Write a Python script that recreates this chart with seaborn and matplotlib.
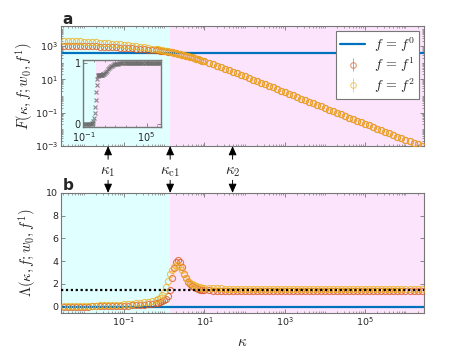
import matplotlib
matplotlib.use("Agg")
import matplotlib.pyplot as plt
import matplotlib.ticker as mticker
from matplotlib.transforms import blended_transform_factory
import numpy as np
import seaborn as sns

# sampling grid, log10(kappa)
LOG_KAPPA = [
    -2.5, -2.4, -2.3, -2.2, -2.1, -2.0, -1.9, -1.8, -1.7, -1.6, -1.5, -1.4,
    -1.3, -1.2, -1.1, -1.0, -0.9, -0.8, -0.7, -0.6, -0.5, -0.4, -0.3,
    -0.20, -0.15, -0.10, -0.05, 0.00, 0.05, 0.10, 0.15, 0.20, 0.25, 0.30,
    0.35, 0.40, 0.45, 0.50, 0.55, 0.60, 0.65, 0.70, 0.75, 0.80, 0.85, 0.90,
    0.95, 1.00,
    1.1, 1.2, 1.3, 1.4, 1.5, 1.6, 1.7, 1.8, 1.9, 2.0, 2.1, 2.2, 2.3, 2.4,
    2.5, 2.6, 2.7, 2.8, 2.9, 3.0, 3.1, 3.2, 3.3, 3.4, 3.5, 3.6, 3.7, 3.8,
    3.9, 4.0, 4.1, 4.2, 4.3, 4.4, 4.5, 4.6, 4.7, 4.8, 4.9, 5.0, 5.1, 5.2,
    5.3, 5.4, 5.5, 5.6, 5.7, 5.8, 5.9, 6.0, 6.1, 6.2, 6.3, 6.4,
]

# panel a: log10 F, first 48 points differ between f1 and f2
LOG_F1_HEAD = [
    3.03, 3.02, 3.02, 3.01, 3.00, 3.00, 2.99, 2.98, 2.98, 2.97, 2.96, 2.95,
    2.94, 2.93, 2.91, 2.90, 2.88, 2.87, 2.85, 2.83, 2.81, 2.79, 2.77,
    2.75, 2.74, 2.72, 2.71, 2.69, 2.68, 2.66, 2.64, 2.62, 2.59, 2.57,
    2.54, 2.51, 2.48, 2.45, 2.42, 2.39, 2.36, 2.32, 2.29, 2.25, 2.21, 2.17,
    2.13, 2.09,
]
LOG_F2_HEAD = [
    3.33, 3.32, 3.30, 3.29, 3.28, 3.26, 3.25, 3.24, 3.22, 3.20, 3.18, 3.16,
    3.14, 3.12, 3.10, 3.07, 3.04, 3.02, 2.99, 2.95, 2.92, 2.89, 2.85,
    2.82, 2.80, 2.78, 2.76, 2.73, 2.71, 2.68, 2.65, 2.63, 2.60, 2.57,
    2.54, 2.51, 2.48, 2.45, 2.42, 2.39, 2.36, 2.32, 2.29, 2.25, 2.21, 2.17,
    2.13, 2.09,
]
LOG_F_TAIL = [
    2.00, 1.91, 1.82, 1.73, 1.64, 1.55, 1.46, 1.37, 1.28, 1.18, 1.09, 0.99,
    0.90, 0.80, 0.71, 0.61, 0.52, 0.42, 0.33, 0.23, 0.14, 0.04, -0.05,
    -0.15, -0.24, -0.34, -0.43, -0.53, -0.62, -0.72, -0.81, -0.91, -1.00,
    -1.10, -1.19, -1.29, -1.38, -1.48, -1.57, -1.67, -1.76, -1.86, -1.95,
    -2.05, -2.14, -2.24, -2.33, -2.43, -2.52, -2.62, -2.71, -2.81, -2.90,
    -3.00,
]
F0_LEVEL = 400.0

# panel b
LAMBDA1 = [
    0.00, 0.00, 0.00, 0.01, 0.01, 0.01, 0.01, 0.02, 0.02, 0.03, 0.03, 0.04,
    0.05, 0.06, 0.07, 0.08, 0.10, 0.11, 0.13, 0.15, 0.18, 0.21, 0.25,
    0.30, 0.34, 0.40, 0.48, 0.58, 0.70, 0.90, 1.50, 2.50, 3.40, 3.95,
    4.10, 3.95, 3.50, 2.90, 2.50, 2.20, 2.00, 1.85, 1.72, 1.62, 1.55, 1.50,
    1.47, 1.45,
    1.43, 1.42, 1.41, 1.40, 1.40, 1.40, 1.39, 1.39, 1.39, 1.39, 1.39, 1.39,
    1.39, 1.39, 1.39, 1.39, 1.39, 1.39, 1.39, 1.39, 1.39, 1.39, 1.39, 1.39,
    1.39, 1.39, 1.39, 1.39, 1.39, 1.39, 1.39, 1.39, 1.39, 1.39, 1.39, 1.39,
    1.39, 1.39, 1.39, 1.39, 1.39, 1.39, 1.39, 1.39, 1.39, 1.39, 1.39, 1.39,
    1.39, 1.39, 1.39, 1.39, 1.39, 1.39,
]
LAMBDA2 = [
    0.05, 0.05, 0.06, 0.06, 0.07, 0.07, 0.08, 0.09, 0.10, 0.11, 0.12, 0.13,
    0.15, 0.17, 0.19, 0.21, 0.24, 0.27, 0.30, 0.34, 0.38, 0.43, 0.50,
    0.58, 0.66, 0.80, 1.00, 1.30, 1.70, 2.30, 2.85, 3.25, 3.50, 3.65,
    3.65, 3.50, 3.20, 2.85, 2.55, 2.30, 2.12, 2.00, 1.90, 1.82, 1.76, 1.72,
    1.68, 1.66,
    1.64, 1.62, 1.61, 1.60, 1.59, 1.59, 1.58, 1.58, 1.58, 1.58, 1.58, 1.58,
    1.58, 1.58, 1.58, 1.58, 1.58, 1.58, 1.58, 1.58, 1.58, 1.58, 1.58, 1.58,
    1.58, 1.58, 1.58, 1.58, 1.58, 1.58, 1.58, 1.58, 1.58, 1.58, 1.58, 1.58,
    1.58, 1.58, 1.58, 1.58, 1.58, 1.58, 1.58, 1.58, 1.58, 1.58, 1.58, 1.58,
    1.58, 1.58, 1.58, 1.58, 1.58, 1.58,
]
LAMBDA_REF = 1.5

# inset of panel a
INSET_G = [
    0.00, 0.00, 0.00, 0.00, 0.00, 0.00, 0.00, 0.00, 0.00, 0.00, 0.00, 0.00,
    0.00, 0.00, 0.00, 0.00, 0.00, 0.00, 0.00, 0.00, 0.00, 0.00, 0.00,
    0.00, 0.01, 0.02, 0.05, 0.10, 0.18, 0.28, 0.40, 0.52, 0.64, 0.74,
    0.79, 0.80, 0.80, 0.80, 0.80, 0.80, 0.80, 0.81, 0.81, 0.81, 0.82, 0.82,
    0.83, 0.84,
    0.86, 0.88, 0.90, 0.92, 0.93, 0.95, 0.96, 0.97, 0.98, 0.985, 0.99, 0.99,
    0.995, 1.00, 1.00, 1.00, 1.00, 1.00, 1.00, 1.00, 1.00, 1.00, 1.00, 1.00,
    1.00, 1.00, 1.00, 1.00, 1.00, 1.00, 1.00, 1.00, 1.00, 1.00, 1.00, 1.00,
    1.00, 1.00, 1.00, 1.00, 1.00, 1.00, 1.00, 1.00, 1.00, 1.00, 1.00, 1.00,
    1.00, 1.00, 1.00, 1.00, 1.00, 1.00,
]

KAPPA_MARKS = {r"$\kappa_1$": 0.04, r"$\kappa_{\rm c1}$": 1.4, r"$\kappa_2$": 50.0}
KAPPA_C1 = 1.4

BLUE = "#0072BD"
RED = "#D95319"
YELLOW = "#EDB120"
CYAN_BG = "#e0ffff"
PINK_BG = "#fce4fc"
FRAME = "#777777"


def style_axis(ax, fontsize=6.8):
    for sp in ax.spines.values():
        sp.set_color(FRAME)
        sp.set_linewidth(0.8)
    ax.tick_params(which="both", direction="in", top=True, right=True,
                   color=FRAME, labelsize=fontsize, pad=2)
    ax.tick_params(which="major", length=3, width=0.6)
    ax.tick_params(which="minor", length=1.6, width=0.5)


def shade(ax, xlim):
    ax.axvspan(xlim[0], KAPPA_C1, color=CYAN_BG, lw=0, zorder=0)
    ax.axvspan(KAPPA_C1, xlim[1], color=PINK_BG, lw=0, zorder=0)


def set_log_ticks(axis, majors):
    axis.set_major_locator(mticker.FixedLocator(majors))
    axis.set_major_formatter(mticker.LogFormatterSciNotation())
    axis.set_minor_locator(mticker.LogLocator(base=10, subs=np.arange(1, 10),
                                              numticks=40))
    axis.set_minor_formatter(mticker.NullFormatter())


def main():
    sns.set_theme(style="ticks")
    plt.rcParams["font.family"] = ["DejaVu Sans"]
    plt.rcParams["mathtext.fontset"] = "cm"

    kappa = 10 ** np.array(LOG_KAPPA)
    f1 = 10 ** np.array(LOG_F1_HEAD + LOG_F_TAIL)
    f2 = 10 ** np.array(LOG_F2_HEAD + LOG_F_TAIL)
    xlim = (10 ** -2.57, 10 ** 6.46)

    fig = plt.figure(figsize=(4.69, 3.52), dpi=100)
    ax_a = fig.add_axes([0.130, 0.585, 0.774, 0.341])
    ax_b = fig.add_axes([0.130, 0.111, 0.774, 0.341])

    mk = dict(marker="o", linestyle="", markersize=4.4, markerfacecolor="none",
              markeredgewidth=0.8, alpha=0.75, legend=False)

    # panel a
    ax_a.set_xscale("log")
    ax_a.set_yscale("log")
    shade(ax_a, xlim)
    sns.lineplot(x=list(xlim), y=[F0_LEVEL, F0_LEVEL], color=BLUE, lw=1.6,
                 ax=ax_a, legend=False, zorder=2)
    sns.lineplot(x=kappa, y=f1, color=RED, markeredgecolor=RED, ax=ax_a,
                 zorder=3, **mk)
    sns.lineplot(x=kappa, y=f2, color=YELLOW, markeredgecolor=YELLOW, ax=ax_a,
                 zorder=3, **mk)
    set_log_ticks(ax_a.yaxis, [1e-3, 1e-1, 1e1, 1e3])
    set_log_ticks(ax_a.xaxis, [1e-1, 1e1, 1e3, 1e5])
    ax_a.set_xlim(*xlim)
    ax_a.set_ylim(1e-3, 10 ** 4.2)
    ax_a.tick_params(labelbottom=False)
    ax_a.set_xlabel("")
    ax_a.set_ylabel(r"$F(\kappa, f; w_0, f^1)$", fontsize=10.5, labelpad=0)
    style_axis(ax_a)

    h0 = plt.Line2D([], [], color=BLUE, lw=1.6)
    h1 = ax_a.errorbar([], [], yerr=[], fmt="o", mfc="none", mec=RED, ecolor=RED,
                       ms=4.0, mew=0.8, elinewidth=0.7, capsize=2, alpha=0.6)
    h2 = ax_a.errorbar([], [], yerr=[], fmt="o", mfc="none", mec=YELLOW,
                       ecolor=YELLOW, ms=4.0, mew=0.8, elinewidth=0.7, capsize=2,
                       alpha=0.6)
    leg = ax_a.legend([h0, h1, h2], [r"$f\,=\,f^0$", r"$f\,=\,f^1$", r"$f\,=\,f^2$"],
                      loc="upper right", fontsize=10, frameon=True,
                      fancybox=False, framealpha=1, edgecolor=FRAME,
                      borderaxespad=0.35, handlelength=1.8, handletextpad=0.6,
                      labelspacing=0.15, borderpad=0.3)
    leg.get_frame().set_linewidth(0.8)

    # inset
    ax_in = fig.add_axes([0.178, 0.639, 0.166, 0.190])
    ax_in.set_xscale("log")
    in_xlim = (1e-1, 10 ** 6.4)
    shade(ax_in, in_xlim)
    sns.lineplot(x=kappa, y=INSET_G, marker="x", linestyle="", color="#6e6e6e",
                 markersize=3.2, markeredgewidth=0.8, markeredgecolor="#6e6e6e",
                 alpha=0.8, ax=ax_in, legend=False)
    ax_in.xaxis.set_major_locator(mticker.FixedLocator([1e-1, 1e5]))
    ax_in.xaxis.set_major_formatter(mticker.LogFormatterSciNotation())
    ax_in.xaxis.set_minor_locator(mticker.LogLocator(base=10, subs=[1.0],
                                                     numticks=20))
    ax_in.xaxis.set_minor_formatter(mticker.NullFormatter())
    ax_in.set_xlim(*in_xlim)
    ax_in.set_ylim(-0.05, 1.05)
    ax_in.set_yticks([0, 1])
    ax_in.set_xlabel("")
    ax_in.set_ylabel("")
    style_axis(ax_in, fontsize=7)
    for sp in ax_in.spines.values():
        sp.set_linewidth(1.0)

    # panel b
    ax_b.set_xscale("log")
    shade(ax_b, xlim)
    sns.lineplot(x=list(xlim), y=[0, 0], color=BLUE, lw=1.6, ax=ax_b,
                 legend=False, zorder=2)
    sns.lineplot(x=kappa, y=LAMBDA1, color=RED, markeredgecolor=RED, ax=ax_b,
                 zorder=3, **mk)
    sns.lineplot(x=kappa, y=LAMBDA2, color=YELLOW, markeredgecolor=YELLOW,
                 ax=ax_b, zorder=3, **mk)
    ax_b.axhline(LAMBDA_REF, color="black", ls=(0, (1, 1.2)), lw=1.6, zorder=4)
    set_log_ticks(ax_b.xaxis, [1e-1, 1e1, 1e3, 1e5])
    ax_b.set_xlim(*xlim)
    ax_b.set_ylim(-0.55, 10)
    ax_b.set_yticks([0, 2, 4, 6, 8, 10])
    ax_b.set_xlabel(r"$\kappa$", fontsize=11, labelpad=4)
    ax_b.set_ylabel(r"$\Lambda(\kappa, f; w_0, f^1)$", fontsize=10.5, labelpad=6)
    style_axis(ax_b)

    # kappa markers between the panels
    tr_a = blended_transform_factory(ax_a.transData, ax_a.transAxes)
    tr_b = blended_transform_factory(ax_b.transData, ax_b.transAxes)
    arrow = dict(arrowstyle="-|>,head_length=0.45,head_width=0.2",
                 color="black", lw=0.7, shrinkA=0, shrinkB=0)
    for label, k in KAPPA_MARKS.items():
        ax_a.annotate("", xy=(k, 0.0), xycoords=tr_a, xytext=(k, -0.11),
                      textcoords=tr_a, arrowprops=arrow, annotation_clip=False)
        ax_b.annotate("", xy=(k, 1.0), xycoords=tr_b, xytext=(k, 1.105),
                      textcoords=tr_b, arrowprops=arrow, annotation_clip=False)
        ax_a.text(k, -0.215, label, transform=tr_a, ha="center", va="center",
                  fontsize=11)

    fig.text(0.145, 0.945, "a", fontsize=11, fontweight="bold", ha="center",
             va="center")
    fig.text(0.145, 0.474, "b", fontsize=11, fontweight="bold", ha="center",
             va="center")

    fig.savefig("out.png", dpi=100)
    plt.close(fig)


if __name__ == "__main__":
    main()
